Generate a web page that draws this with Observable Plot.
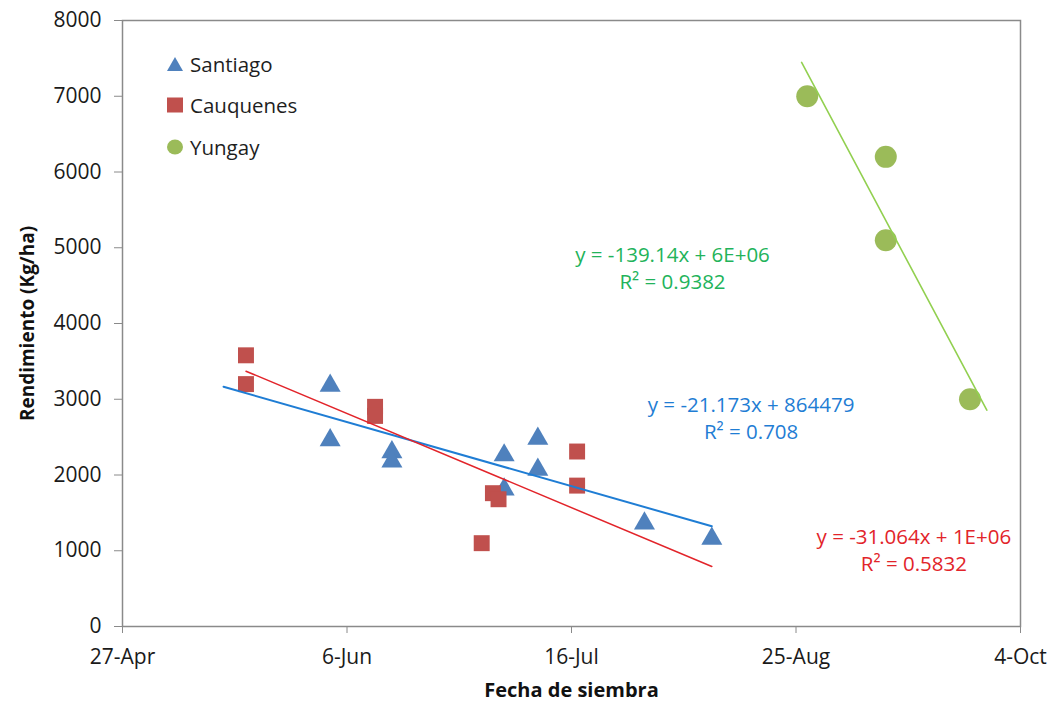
<!DOCTYPE html>
<html>
<head>
<meta charset="utf-8">
<script src="https://cdn.jsdelivr.net/npm/d3@7"></script>
<script src="https://cdn.jsdelivr.net/npm/@observablehq/plot@0.6"></script>
<style>
  body { margin: 0; background: #fff; }
  #chart { position: relative; width: 1057px; height: 707px; font-family: "Open Sans", sans-serif; }
  .legend { position: absolute; left: 165px; top: 43px; }
  .legend .row { display: flex; align-items: center; height: 41.5px; font-size: 20.5px; color: #1e1e1e; }
  .legend svg { width: 20px; height: 20px; margin-right: 5px; flex: none; }
</style>
</head>
<body>
<div id="chart"></div>
<script>
// Sowing date (Fecha de siembra) vs. yield (kg/ha) for three locations, 2011 season
const seriesNames = ["Santiago", "Cauquenes", "Yungay"];

const santiagoDates = ["2011-06-03", "2011-06-03", "2011-06-14", "2011-06-14", "2011-07-04",
                       "2011-07-04", "2011-07-10", "2011-07-10", "2011-07-29", "2011-08-10"];
const santiagoYield = [3220, 2500, 2340, 2220, 2300, 1850, 2520, 2110, 1400, 1200];

const cauquenesDates = ["2011-05-19", "2011-05-19", "2011-06-11", "2011-06-11", "2011-06-30",
                        "2011-07-02", "2011-07-03", "2011-07-17", "2011-07-17"];
const cauquenesYield = [3580, 3200, 2900, 2780, 1100, 1760, 1680, 2310, 1860];

const yungayDates = ["2011-08-27", "2011-09-10", "2011-09-10", "2011-09-25"];
const yungayYield = [7000, 6200, 5100, 3000];

// Linear trends as printed on the chart (slope in kg/ha per day)
const trendSlopes = [-21.173, -31.064, -139.14];
const trendIntercepts = ["864479", "1E+06", "6E+06"];
const trendR2 = ["0.708", "0.5832", "0.9382"];
const trendStart = ["2011-05-15", "2011-05-19", "2011-08-26"];
const trendEnd = ["2011-08-10", "2011-08-10", "2011-09-28"];

const xTickDates = ["2011-04-27", "2011-06-06", "2011-07-16", "2011-08-25", "2011-10-04"];
const yTickValues = [0, 1000, 2000, 3000, 4000, 5000, 6000, 7000, 8000];

// ---- build tables
const parse = d3.utcParse("%Y-%m-%d");
const DAY = 864e5;
const pointsBySeries = [
  santiagoDates.map((d, i) => ({series: "Santiago", date: parse(d), value: santiagoYield[i]})),
  cauquenesDates.map((d, i) => ({series: "Cauquenes", date: parse(d), value: cauquenesYield[i]})),
  yungayDates.map((d, i) => ({series: "Yungay", date: parse(d), value: yungayYield[i]}))
];

// each trend line uses its printed slope and passes through the series centroid
const trendLines = pointsBySeries.flatMap((pts, k) => {
  const mx = d3.mean(pts, p => +p.date);
  const my = d3.mean(pts, p => p.value);
  const at = d => ({series: seriesNames[k], date: d, value: my + trendSlopes[k] * (d - mx) / DAY});
  return [at(parse(trendStart[k])), at(parse(trendEnd[k]))];
});

const eqText = seriesNames.map((s, k) =>
  `y = ${trendSlopes[k]}x + ${trendIntercepts[k]}\nR² = ${trendR2[k]}`);

const markerFill = {Santiago: "#4F81BD", Cauquenes: "#C0504D", Yungay: "#9BBB59"};
const lineStroke = {Santiago: "#1F7DD4", Cauquenes: "#E2242A", Yungay: "#92D050"};
const eqFill = ["#1F7DD4", "#E2242A", "#22B35A"];

// equation label anchors (date, kg/ha) for Santiago, Cauquenes, Yungay
const eqAt = [["2011-08-17", 2770], ["2011-09-15", 1020], ["2011-08-03", 4750]];

const chart = Plot.plot({
  width: 1057,
  height: 707,
  marginLeft: 122,
  marginRight: 37,
  marginTop: 20,
  marginBottom: 81,
  style: {fontFamily: '"Open Sans", sans-serif', fontSize: "21px", background: "#fff", overflow: "visible"},
  x: {type: "utc", domain: [parse(xTickDates[0]), parse(xTickDates[xTickDates.length - 1])]},
  y: {domain: [0, 8000]},
  marks: [
    Plot.frame({stroke: "#8a8a8a", strokeWidth: 1.5}),
    Plot.axisY({ticks: yTickValues, tickSize: 8, tickPadding: 13, stroke: "#8a8a8a", fill: "#1a1a1a",
                tickFormat: d => String(d), label: null}),
    Plot.axisX({ticks: xTickDates.map(parse), tickFormat: d3.utcFormat("%-d-%b"), tickSize: 7,
                tickPadding: 16, stroke: "#8a8a8a", fill: "#1a1a1a", label: null}),
    Plot.text(["Fecha de siembra"], {frameAnchor: "bottom", dy: 64, lineAnchor: "middle",
                textAnchor: "middle", fontWeight: "bold", fontSize: 20, fill: "#111"}),
    Plot.text(["Rendimiento (Kg/ha)"], {frameAnchor: "left", dx: -95, rotate: -90, lineAnchor: "middle",
                textAnchor: "middle", fontWeight: "bold", fontSize: 19, fill: "#111"}),
    Plot.dot(pointsBySeries[0], {x: "date", y: "value", symbol: "triangle", r: 7.8, dy: 3,
                fill: markerFill.Santiago, stroke: "none"}),
    Plot.dot(pointsBySeries[1], {x: "date", y: "value", symbol: "square", r: 9,
                fill: markerFill.Cauquenes, stroke: "none"}),
    Plot.dot(pointsBySeries[2], {x: "date", y: "value", symbol: "circle", r: 11,
                fill: markerFill.Yungay, stroke: "none"}),
    Plot.line(trendLines.filter(d => d.series === "Santiago"), {x: "date", y: "value",
                stroke: lineStroke.Santiago, strokeWidth: 2}),
    Plot.line(trendLines.filter(d => d.series === "Cauquenes"), {x: "date", y: "value",
                stroke: lineStroke.Cauquenes, strokeWidth: 1.5}),
    Plot.line(trendLines.filter(d => d.series === "Yungay"), {x: "date", y: "value",
                stroke: lineStroke.Yungay, strokeWidth: 1.6}),
    Plot.text(eqText, {x: (d, i) => parse(eqAt[i][0]), y: (d, i) => eqAt[i][1],
                fill: (d, i) => eqFill[i], textAnchor: "middle", lineAnchor: "middle",
                lineHeight: 1.3, fontSize: 20.5})
  ]
});

const root = document.getElementById("chart");
root.appendChild(chart);

// legend (top-left inside the plot area)
const legendSymbols = {
  Santiago: `<polygon points="10,3 18,17 2,17" fill="${markerFill.Santiago}"/>`,
  Cauquenes: `<rect x="2" y="2.5" width="16" height="15" fill="${markerFill.Cauquenes}"/>`,
  Yungay: `<ellipse cx="10" cy="10" rx="8" ry="7.5" fill="${markerFill.Yungay}"/>`
};
const legend = document.createElement("div");
legend.className = "legend";
legend.innerHTML = seriesNames.map(s =>
  `<div class="row"><svg viewBox="0 0 20 20">${legendSymbols[s]}</svg><span>${s}</span></div>`).join("");
root.appendChild(legend);
</script>
</body>
</html>
